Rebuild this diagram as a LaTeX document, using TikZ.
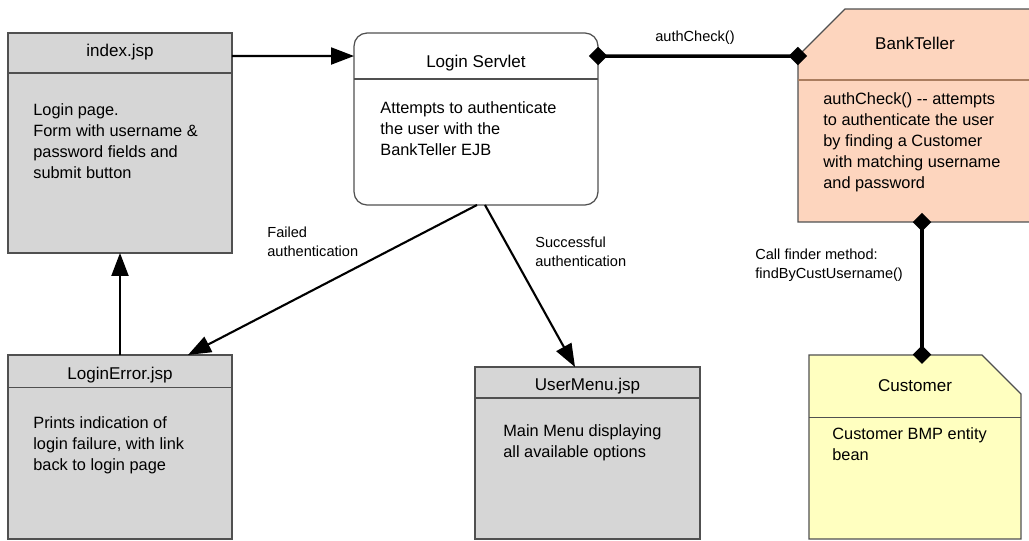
\documentclass[tikz,border=0pt]{standalone}
\usepackage{fontspec}
\setmainfont{Liberation Sans}
\usetikzlibrary{positioning,arrows.meta}

\definecolor{pagegray}{RGB}{214,214,214}
\definecolor{framegray}{RGB}{80,80,80}
\definecolor{tellerpeach}{RGB}{253,213,190}
\definecolor{tellerbrown}{RGB}{170,125,95}
\definecolor{customeryellow}{RGB}{255,255,192}

\begin{document}
\begin{tikzpicture}[
    x=0.02cm, y=-0.02cm,
    classbox/.style={
        rectangle,
        draw=framegray,
        line width=0.7pt,
        inner sep=0pt,
        outer sep=0pt,
    },
    jspbox/.style={classbox, fill=pagegray},
    divider/.style={draw=framegray, line width=0.6pt},
    titletext/.style={font=\fontsize{9.7}{12}\selectfont, inner sep=0pt},
    bodytext/.style={align=left, anchor=north west, inner sep=0pt,
        font=\fontsize{9.3}{12}\selectfont},
    note/.style={align=left, anchor=north west, inner sep=0pt,
        font=\fontsize{8.3}{10.5}\selectfont},
    flow/.style={->, line width=1.2pt},
    comp/.style={
        {Diamond[length=0.37cm,width=0.37cm]}-{Diamond[length=0.37cm,width=0.37cm]},
        line width=2pt, shorten <=-0.18cm, shorten >=-0.18cm
    },
    >={Triangle[length=0.46cm,width=0.34cm]}
]
\useasboundingbox (0,0) rectangle (1029,541);

% boxes
\node[jspbox, minimum width=4.48cm, minimum height=4.4cm] (index) at (120,143) {};
\node[jspbox, minimum width=4.48cm, minimum height=3.68cm, below=2.04cm of index] (error) {};
\node[jspbox, minimum width=4.5cm, minimum height=3.44cm] (menu) at (587.5,453) {};
\node[classbox, fill=white, rounded corners=0.26cm, minimum width=4.88cm, minimum height=3.44cm] (servlet) at (476,119) {};

\node[classbox, draw=none, minimum width=4.96cm, minimum height=4.26cm] (teller) at (922,115.5) {};
\filldraw[fill=tellerpeach, draw=framegray, line width=0.7pt]
    ([yshift=-0.94cm]teller.north west) -- ([xshift=0.94cm]teller.north west) -- (teller.north east)
    -- (teller.south east) -- (teller.south west) -- cycle;

\node[classbox, draw=none, minimum width=4.24cm, minimum height=3.68cm, below=2.66cm of teller, xshift=-0.14cm] (customer) {};
\filldraw[fill=customeryellow, draw=framegray, line width=0.7pt]
    (customer.north west) -- ([xshift=-0.78cm]customer.north east) -- ([yshift=-0.78cm]customer.north east)
    -- (customer.south east) -- (customer.south west) -- cycle;

% compartment lines
\draw[divider] ([yshift=-0.8cm]index.north west) -- ([yshift=-0.8cm]index.north east);
\draw[divider] ([yshift=-0.92cm]servlet.north west) -- ([yshift=-0.92cm]servlet.north east);
\draw[divider, draw=tellerbrown] ([yshift=-1.42cm]teller.north west) -- ([yshift=-1.42cm]teller.north east);
\draw[divider] ([yshift=-0.66cm]error.north west) -- ([yshift=-0.66cm]error.north east);
\draw[divider] ([yshift=-0.62cm]menu.north west) -- ([yshift=-0.62cm]menu.north east);
\draw[divider] ([yshift=-1.26cm]customer.north west) -- ([yshift=-1.26cm]customer.north east);

% titles
\node[titletext] (index title) at ([yshift=-0.38cm]index.north) {index.jsp};
\node[titletext] (servlet title) at ([yshift=-0.6cm]servlet.north) {Login Servlet};
\node[titletext] (teller title) at ([xshift=-0.14cm, yshift=-0.68cm]teller.north) {BankTeller};
\node[titletext] (error title) at ([yshift=-0.4cm]error.north) {LoginError.jsp};
\node[titletext] (menu title) at ([yshift=-0.38cm]menu.north) {UserMenu.jsp};
\node[titletext] (customer title) at ([yshift=-0.62cm]customer.north) {Customer};

% descriptions
\node[bodytext] (index body) at ([xshift=0.5cm, yshift=-1.4cm]index.north west)
    {Login page.\\Form with username \&\\password fields and\\submit button};
\node[bodytext] (servlet body) at ([xshift=0.52cm, yshift=-1.36cm]servlet.north west)
    {Attempts to authenticate\\the user with the\\BankTeller EJB};
\node[bodytext] (teller body) at ([xshift=0.5cm, yshift=-1.66cm]teller.north west)
    {authCheck() -{}- attempts\\to authenticate the user\\by finding a Customer\\with matching username\\and password};
\node[bodytext] (error body) at ([xshift=0.5cm, yshift=-1.22cm]error.north west)
    {Prints indication of\\login failure, with link\\back to login page};
\node[bodytext] (menu body) at ([xshift=0.56cm, yshift=-1.14cm]menu.north west)
    {Main Menu displaying\\all available options};
\node[bodytext] (customer body) at ([xshift=0.46cm, yshift=-1.44cm]customer.north west)
    {Customer BMP entity\\bean};

% connectors
\draw[flow] ([yshift=-0.46cm]index.north east) -- ([yshift=-0.46cm]servlet.north west);
\draw[comp] ([yshift=-0.46cm]servlet.north east) -- ([yshift=-0.94cm]teller.north west);
\draw[flow] (error) -- (index);
\draw[flow] ([xshift=0.02cm]servlet.south) -- ([xshift=-0.88cm]error.north east);
\draw[flow] ([xshift=0.18cm]servlet.south) -- ([xshift=-0.25cm]menu.north);
\draw[comp] (teller.south) -- (teller.south |- customer.north);

% connector labels
\node[note, anchor=center] (auth label) at (695,38) {authCheck()};
\node[note] (failed label) at (267,227) {Failed\\authentication};
\node[note] (success label) at (535,237) {Successful\\authentication};
\node[note] (finder label) at (755,249) {Call finder method:\\findByCustUsername()};

\end{tikzpicture}
\end{document}
